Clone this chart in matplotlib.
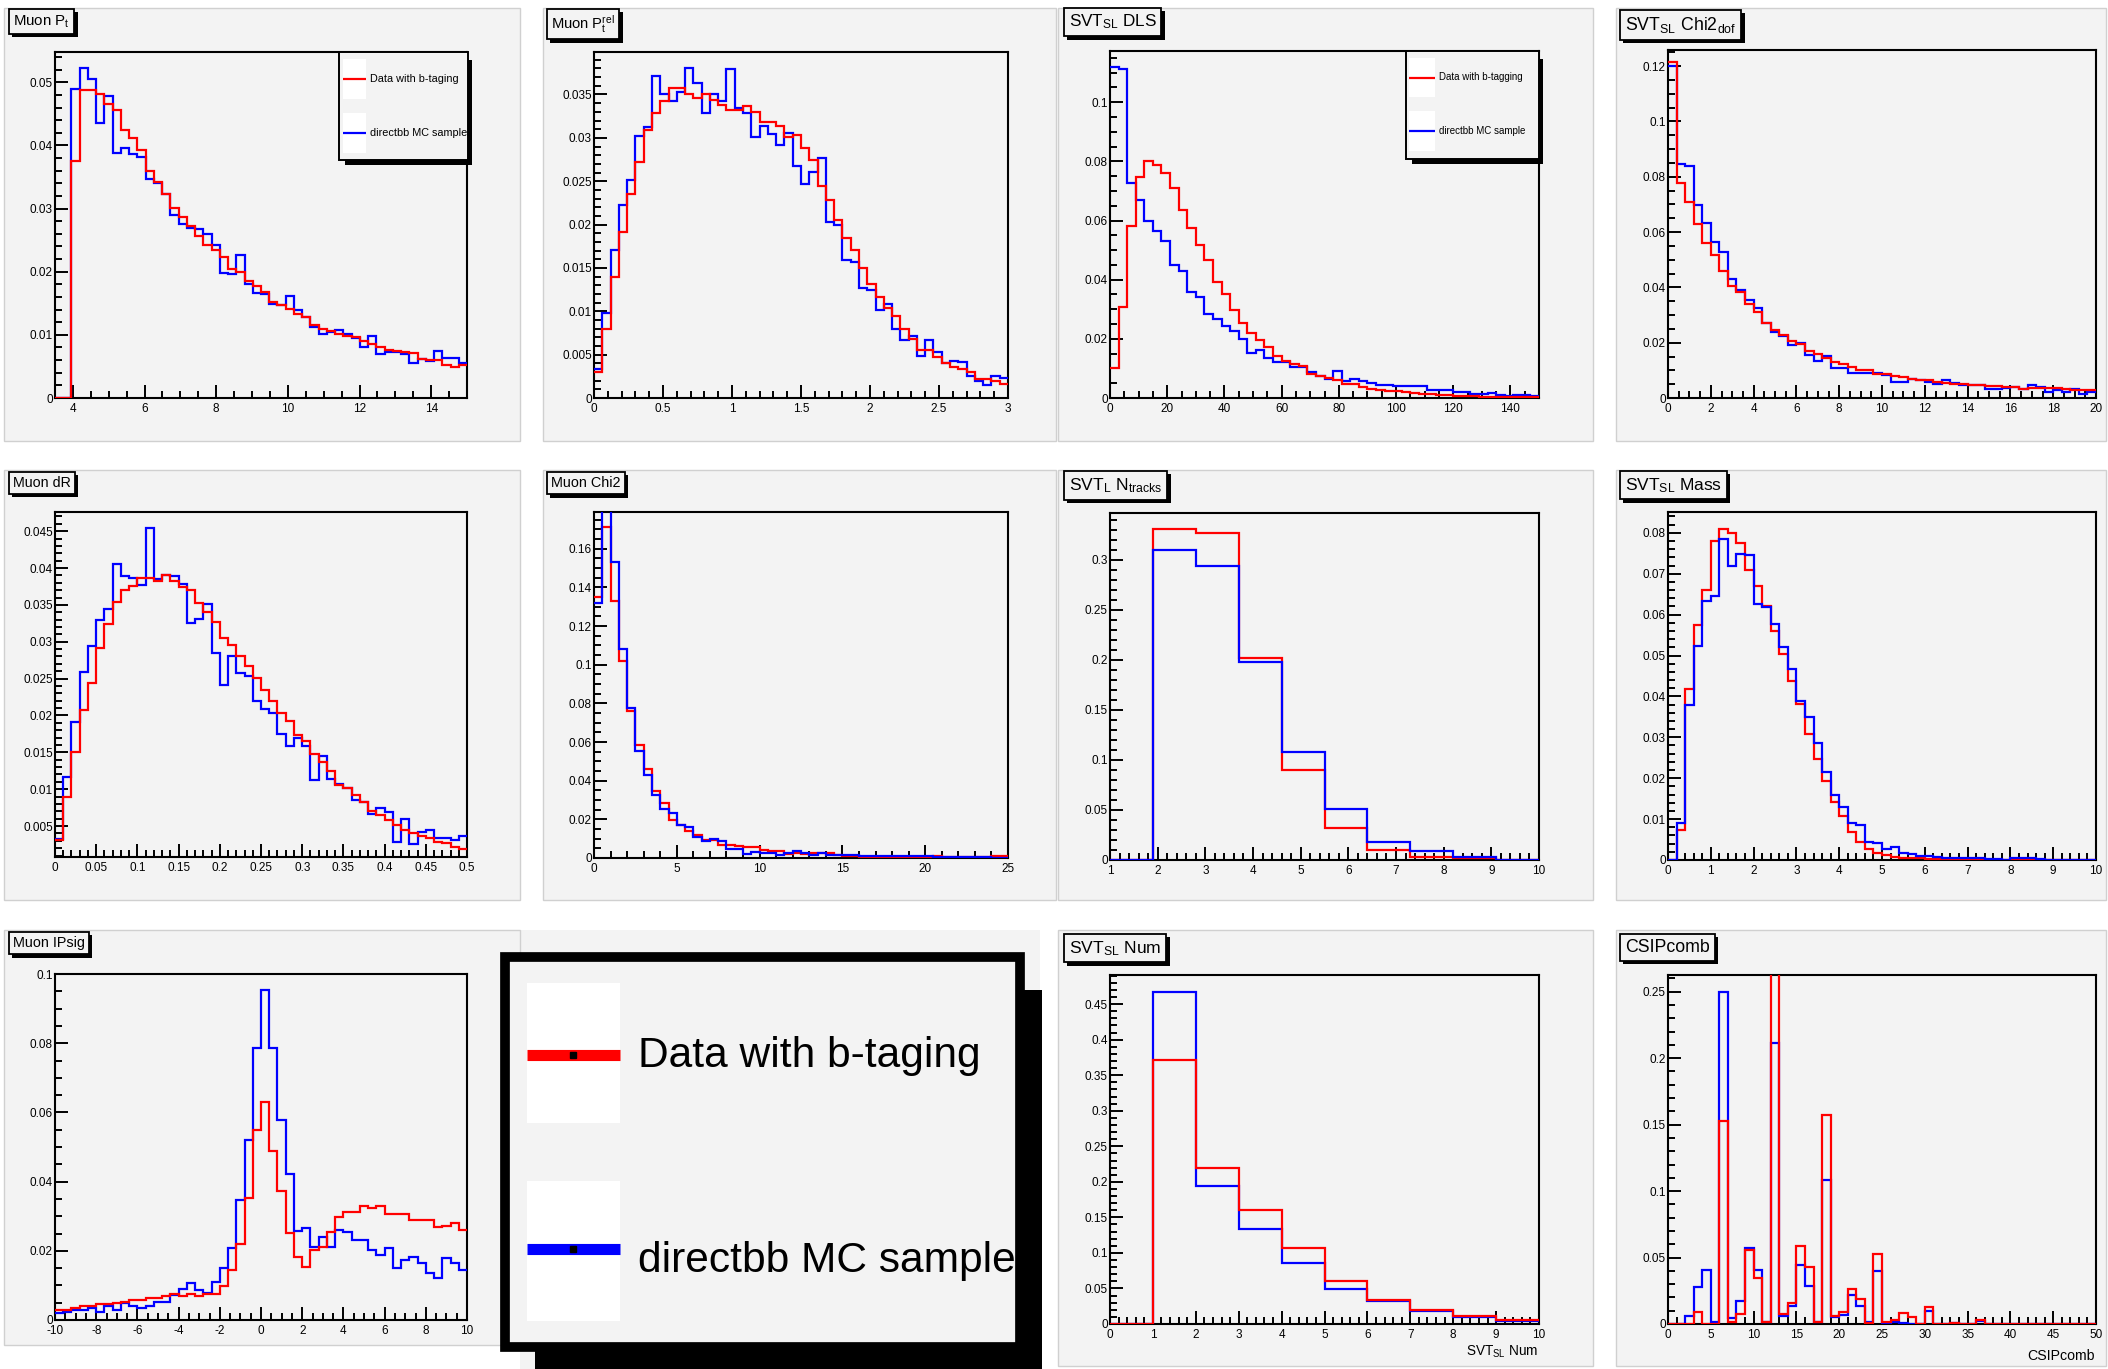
import numpy as np
import matplotlib
matplotlib.use("Agg")
import matplotlib.pyplot as plt
from matplotlib.patches import Rectangle
from matplotlib.lines import Line2D
from matplotlib.ticker import MultipleLocator, FuncFormatter
from matplotlib.transforms import Affine2D
import matplotlib.patheffects as pe

W, H = 2108, 1369
FAM = "Liberation Sans"

plt.rcParams["font.family"] = [FAM, "DejaVu Sans"]
plt.rcParams["axes.unicode_minus"] = False
plt.rcParams["mathtext.fontset"] = "custom"
plt.rcParams["mathtext.rm"] = FAM
plt.rcParams["mathtext.it"] = FAM
plt.rcParams["mathtext.default"] = "regular"

RED, BLUE, PAD = "#ff0000", "#0000ff", "#f3f3f3"

# ---- data (normalised bin contents) ----
pt_red = [0, 0, 0.0375, 0.0488, 0.0488, 0.0482, 0.0466, 0.0456, 0.0424, 0.0412,
          0.0392, 0.0360, 0.0342, 0.0323, 0.0301, 0.0287, 0.0272, 0.0256, 0.0243, 0.0234,
          0.0224, 0.0205, 0.0199, 0.0186, 0.0177, 0.0168, 0.0152, 0.0148, 0.0141, 0.0133,
          0.0129, 0.0115, 0.0110, 0.0106, 0.0102, 0.0098, 0.0097, 0.0090, 0.0086, 0.0081,
          0.0076, 0.0074, 0.0073, 0.0071, 0.0062, 0.0060, 0.0060, 0.0053, 0.0049, 0.0053]
pt_blue = [0, 0, 0.0489, 0.0522, 0.0506, 0.0436, 0.0478, 0.0388, 0.0396, 0.0387,
           0.0382, 0.0347, 0.0340, 0.0323, 0.0290, 0.0275, 0.0269, 0.0268, 0.0259, 0.0243,
           0.0198, 0.0196, 0.0227, 0.0180, 0.0166, 0.0165, 0.0149, 0.0148, 0.0161, 0.0139,
           0.0128, 0.0113, 0.0101, 0.0105, 0.0107, 0.0101, 0.0095, 0.0081, 0.0098, 0.0069,
           0.0073, 0.0073, 0.0070, 0.0056, 0.0062, 0.0059, 0.0075, 0.0063, 0.0063, 0.0056]

ptrel_red = [0.0030, 0.0080, 0.0140, 0.0192, 0.0235, 0.0272, 0.0309, 0.0329, 0.0342, 0.0357,
             0.0358, 0.0350, 0.0346, 0.0351, 0.0344, 0.0338, 0.0332, 0.0332, 0.0337, 0.0330,
             0.0318, 0.0318, 0.0314, 0.0301, 0.0303, 0.0288, 0.0274, 0.0245, 0.0228, 0.0205,
             0.0185, 0.0171, 0.0150, 0.0131, 0.0117, 0.0104, 0.0094, 0.0080, 0.0068, 0.0055,
             0.0055, 0.0047, 0.0040, 0.0036, 0.0034, 0.0030, 0.0022, 0.0022, 0.0020, 0.0016]
ptrel_blue = [0.0034, 0.0098, 0.0171, 0.0223, 0.0251, 0.0302, 0.0313, 0.0371, 0.0350, 0.0342,
              0.0353, 0.0381, 0.0363, 0.0329, 0.0350, 0.0342, 0.0379, 0.0334, 0.0329, 0.0301,
              0.0314, 0.0305, 0.0292, 0.0306, 0.0268, 0.0247, 0.0261, 0.0277, 0.0203, 0.0200,
              0.0159, 0.0157, 0.0127, 0.0124, 0.0101, 0.0108, 0.0080, 0.0067, 0.0071, 0.0048,
              0.0067, 0.0053, 0.0040, 0.0043, 0.0042, 0.0025, 0.0020, 0.0015, 0.0025, 0.0023]

dls_red = [0.0101, 0.0309, 0.0583, 0.0746, 0.0802, 0.0789, 0.0759, 0.0710, 0.0636, 0.0574,
           0.0517, 0.0465, 0.0391, 0.0352, 0.0296, 0.0253, 0.0219, 0.0195, 0.0172, 0.0141,
           0.0125, 0.0116, 0.0107, 0.0082, 0.0076, 0.0069, 0.0060, 0.0048, 0.0048, 0.0037,
           0.0031, 0.0026, 0.0024, 0.0024, 0.0020, 0.0018, 0.0015, 0.0012, 0.0011, 0.0009,
           0.0008, 0.0007, 0.0006, 0.0005, 0.0005, 0.0003, 0.0002, 0.0002, 0.0002, 0.0002]
dls_blue = [0.1120, 0.1111, 0.0726, 0.0669, 0.0600, 0.0566, 0.0532, 0.0448, 0.0429, 0.0358,
            0.0341, 0.0285, 0.0268, 0.0242, 0.0228, 0.0200, 0.0152, 0.0161, 0.0136, 0.0121,
            0.0121, 0.0105, 0.0105, 0.0088, 0.0076, 0.0065, 0.0091, 0.0056, 0.0063, 0.0056,
            0.0051, 0.0043, 0.0043, 0.0039, 0.0039, 0.0039, 0.0039, 0.0028, 0.0028, 0.0028,
            0.0020, 0.0020, 0.0015, 0.0015, 0.0018, 0.0009, 0.0006, 0.0011, 0.0011, 0.0007]

chi2dof_red = [0.1216, 0.0778, 0.0709, 0.0628, 0.0561, 0.0516, 0.0458, 0.0405, 0.0384, 0.0339,
               0.0311, 0.0271, 0.0247, 0.0227, 0.0206, 0.0194, 0.0170, 0.0160, 0.0146, 0.0130,
               0.0122, 0.0112, 0.0103, 0.0103, 0.0088, 0.0088, 0.0078, 0.0076, 0.0070, 0.0066,
               0.0064, 0.0058, 0.0055, 0.0052, 0.0052, 0.0046, 0.0046, 0.0042, 0.0042, 0.0040,
               0.0040, 0.0034, 0.0036, 0.0037, 0.0036, 0.0036, 0.0034, 0.0028, 0.0030, 0.0030]
chi2dof_blue = [0.1200, 0.0846, 0.0838, 0.0697, 0.0631, 0.0565, 0.0526, 0.0429, 0.0392, 0.0356,
                0.0327, 0.0271, 0.0239, 0.0224, 0.0191, 0.0199, 0.0154, 0.0134, 0.0151, 0.0110,
                0.0110, 0.0090, 0.0090, 0.0090, 0.0090, 0.0082, 0.0058, 0.0058, 0.0068, 0.0066,
                0.0058, 0.0052, 0.0064, 0.0054, 0.0046, 0.0046, 0.0046, 0.0031, 0.0031, 0.0037,
                0.0040, 0.0031, 0.0046, 0.0040, 0.0022, 0.0030, 0.0022, 0.0034, 0.0016, 0.0022]

dr_red = [0.0031, 0.0090, 0.0150, 0.0207, 0.0244, 0.0291, 0.0324, 0.0354, 0.0370, 0.0375,
          0.0387, 0.0386, 0.0383, 0.0390, 0.0383, 0.0374, 0.0370, 0.0352, 0.0340, 0.0327,
          0.0305, 0.0296, 0.0280, 0.0267, 0.0251, 0.0234, 0.0220, 0.0204, 0.0193, 0.0174,
          0.0166, 0.0148, 0.0137, 0.0125, 0.0106, 0.0101, 0.0092, 0.0082, 0.0071, 0.0065,
          0.0058, 0.0052, 0.0044, 0.0041, 0.0036, 0.0034, 0.0028, 0.0027, 0.0022, 0.0019]
dr_blue = [0.0033, 0.0117, 0.0191, 0.0259, 0.0294, 0.0329, 0.0345, 0.0405, 0.0389, 0.0386,
           0.0377, 0.0454, 0.0385, 0.0391, 0.0389, 0.0378, 0.0326, 0.0331, 0.0351, 0.0285,
           0.0242, 0.0280, 0.0258, 0.0253, 0.0220, 0.0209, 0.0204, 0.0175, 0.0158, 0.0169,
           0.0158, 0.0112, 0.0145, 0.0114, 0.0107, 0.0101, 0.0085, 0.0083, 0.0066, 0.0074,
           0.0069, 0.0028, 0.0059, 0.0026, 0.0042, 0.0045, 0.0034, 0.0034, 0.0031, 0.0036]

mchi2_red = [0.135, 0.171, 0.133, 0.102, 0.076, 0.0585, 0.0462, 0.0346, 0.0285, 0.0199,
             0.0173, 0.0138, 0.0121, 0.0095, 0.0095, 0.0069, 0.0069, 0.0061, 0.0055, 0.0055,
             0.0043, 0.0035, 0.0035, 0.0021, 0.0026, 0.0021, 0.0026, 0.0026, 0.0026, 0.0014,
             0.0009, 0.0008, 0.0007, 0.0007, 0.0006, 0.0006, 0.0005, 0.0005, 0.0005, 0.0004,
             0.0004, 0.0008, 0.0004, 0.0007, 0.0007, 0.0005, 0.0004, 0.0003, 0.0008, 0.0008]
mchi2_blue = [0.132, 0.200, 0.153, 0.108, 0.0775, 0.0554, 0.0429, 0.0325, 0.0256, 0.0234,
              0.0173, 0.0159, 0.0107, 0.0087, 0.0099, 0.0087, 0.0048, 0.0048, 0.0021, 0.0031,
              0.0026, 0.0026, 0.0017, 0.0026, 0.0035, 0.0026, 0.0017, 0.0026, 0.0017, 0.0017,
              0.0017, 0.0017, 0.0009, 0.0009, 0.0009, 0.0009, 0.0009, 0.0009, 0.0009, 0.0009,
              0.0009, 0.0003, 0.0003, 0.0005, 0.0005, 0.0005, 0.0005, 0.0005, 0.0002, 0.0002]

ntrk_red = [0, 0.331, 0.327, 0.202, 0.0898, 0.0323, 0.0100, 0.0027, 0.0017, 0.0002]
ntrk_blue = [0, 0.310, 0.294, 0.198, 0.1075, 0.0509, 0.0176, 0.0093, 0.0033, 0.0]

mass_red = [0, 0.0073, 0.0419, 0.0574, 0.0660, 0.0779, 0.0810, 0.0800, 0.0775, 0.0708,
            0.0669, 0.0620, 0.0559, 0.0503, 0.0438, 0.0381, 0.0309, 0.0248, 0.0194, 0.0143,
            0.0107, 0.0069, 0.0045, 0.0028, 0.0018, 0.0012, 0.0008, 0.0006, 0.0005, 0.0004,
            0.0003, 0.0002, 0.0002, 0.0001, 0.0001, 0.0001, 0.0001, 0, 0, 0,
            0, 0, 0, 0, 0, 0, 0, 0, 0, 0]
mass_blue = [0, 0.0090, 0.0379, 0.0524, 0.0634, 0.0645, 0.0786, 0.0719, 0.0749, 0.0745,
             0.0625, 0.0619, 0.0576, 0.0520, 0.0466, 0.0389, 0.0350, 0.0285, 0.0216, 0.0159,
             0.0130, 0.0090, 0.0086, 0.0045, 0.0041, 0.0026, 0.0031, 0.0018, 0.0015, 0.0011,
             0.0010, 0.0008, 0.0006, 0.0005, 0.0004, 0.0004, 0.0004, 0.0003, 0.0003, 0.0001,
             0.0005, 0.0005, 0.0005, 0.0002, 0, 0, 0, 0, 0, 0]

ip_red = [0.0029, 0.0029, 0.0036, 0.0040, 0.0040, 0.0045, 0.0045, 0.0048, 0.0053, 0.0058,
          0.0058, 0.0065, 0.0065, 0.0069, 0.0075, 0.0069, 0.0075, 0.0069, 0.0075, 0.0075,
          0.0098, 0.0145, 0.0220, 0.0352, 0.0549, 0.0631, 0.0489, 0.0374, 0.0252, 0.0183,
          0.0154, 0.0202, 0.0212, 0.0255, 0.0299, 0.0311, 0.0311, 0.0329, 0.0323, 0.0329,
          0.0306, 0.0306, 0.0306, 0.0289, 0.0289, 0.0289, 0.0270, 0.0273, 0.0279, 0.0260]
ip_blue = [0.0021, 0.0024, 0.0029, 0.0029, 0.0036, 0.0022, 0.0040, 0.0029, 0.0048, 0.0040,
           0.0034, 0.0040, 0.0053, 0.0053, 0.0072, 0.0089, 0.0108, 0.0087, 0.0079, 0.0111,
           0.0149, 0.0207, 0.0347, 0.0520, 0.0785, 0.0954, 0.0785, 0.0578, 0.0422, 0.0258,
           0.0265, 0.0212, 0.0241, 0.0212, 0.0260, 0.0253, 0.0231, 0.0231, 0.0202, 0.0188,
           0.0207, 0.0149, 0.0173, 0.0183, 0.0166, 0.0137, 0.0120, 0.0178, 0.0166, 0.0145]

num_red = [0, 0.372, 0.2195, 0.161, 0.1067, 0.0611, 0.0343, 0.0197, 0.0118, 0.0056]
num_blue = [0, 0.4676, 0.1936, 0.133, 0.086, 0.0493, 0.032, 0.0179, 0.0094, 0.0047]

csip_red = [0, 0, 0, 0.0088, 0, 0, 0.153, 0.0018, 0.0075, 0.0558,
            0.0347, 0.0013, 0.30, 0.0075, 0.0156, 0.059, 0.0432, 0.0013, 0.1575, 0.0063,
            0.0093, 0.0264, 0.0188, 0.0005, 0.0523, 0.0013, 0.0030, 0.0080, 0.0050, 0,
            0.0126, 0, 0, 0.0008, 0, 0, 0.0030, 0, 0, 0,
            0, 0, 0, 0, 0, 0, 0, 0, 0, 0]
csip_blue = [0, 0, 0.0063, 0.0276, 0.0407, 0.0018, 0.250, 0.0045, 0.0171, 0.057,
             0.0407, 0.0013, 0.2116, 0.0063, 0.0138, 0.0447, 0.0289, 0.0013, 0.108, 0.005,
             0.0068, 0.0219, 0.0138, 0.0018, 0.0402, 0.0005, 0.0018, 0.0005, 0, 0,
             0.0095, 0, 0, 0.0008, 0, 0, 0.0020, 0, 0, 0,
             0, 0, 0, 0, 0, 0, 0, 0, 0, 0]

legend_labels = ["Data with b-taging", "directbb MC sample"]

fig = plt.figure(figsize=(W / 100, H / 100), dpi=100)
fig.patch.set_facecolor("white")
PX = Affine2D().scale(1.0 / W, -1.0 / H).translate(0, 1) + fig.transFigure


def rect(l, t, r, b, z=6, **kw):
    fig.add_artist(Rectangle((l, t), r - l, b - t, transform=PX, zorder=z, **kw))


def hline(x0, x1, y, color, lw, z=7):
    fig.add_artist(Line2D([x0, x1], [y, y], transform=PX, color=color, lw=lw,
                          solid_capstyle="butt", zorder=z))


# pads
for (l, r) in [(4, 520), (543, 1056), (1058, 1593), (1616, 2106)]:
    rect(l, 8, r, 441, z=-5, fc=PAD, ec="#d0d0d0", lw=1)
    rect(l, 470, r, 900, z=-5, fc=PAD, ec="#d0d0d0", lw=1)
rect(4, 930, 520, 1345, z=-5, fc=PAD, ec="#d0d0d0", lw=1)
rect(520, 930, 1040, 1369, z=-6, fc=PAD, ec="none")
rect(1058, 930, 1593, 1366, z=-5, fc=PAD, ec="#d0d0d0", lw=1)
rect(1616, 930, 2106, 1366, z=-5, fc=PAD, ec="#d0d0d0", lw=1)

fmt = FuncFormatter(lambda v, p: "%g" % round(v, 6))


def hist_panel(box, lo, hi, red, blue, ylim, xt, yt, blue_top=False):
    l, t, r, b = box
    ax = fig.add_axes([l / W, 1 - b / H, (r - l) / W, (b - t) / H])
    ax.set_facecolor(PAD)
    edges = np.linspace(lo, hi, len(red) + 1)
    zr, zb = (3.1, 3.2) if blue_top else (3.2, 3.1)
    ax.stairs(blue, edges, color=BLUE, lw=1.6, zorder=zb, baseline=None)
    ax.stairs(red, edges, color=RED, lw=1.6, zorder=zr, baseline=None)
    ax.set_xlim(lo, hi)
    ax.set_ylim(*ylim)
    ax.xaxis.set_major_locator(MultipleLocator(xt[0]))
    ax.xaxis.set_minor_locator(MultipleLocator(xt[1]))
    ax.yaxis.set_major_locator(MultipleLocator(yt[0]))
    ax.yaxis.set_minor_locator(MultipleLocator(yt[1]))
    ax.xaxis.set_major_formatter(fmt)
    ax.yaxis.set_major_formatter(fmt)
    for s in ax.spines.values():
        s.set_linewidth(1.5)
    ax.tick_params(which="both", direction="in", top=False, right=False,
                   width=1.4, labelsize=8.5)
    ax.tick_params(which="major", length=9.5)
    ax.tick_params(which="minor", length=5)
    ax.tick_params(axis="y", pad=1.5)
    ax.tick_params(axis="x", pad=3.5)
    return ax


hist_panel((55, 52, 467, 398), 3.5, 15, pt_red, pt_blue, (0, 0.0548), (2, 0.5), (0.01, 0.002))
hist_panel((594, 52, 1008, 398), 0, 3, ptrel_red, ptrel_blue, (0, 0.0399), (0.5, 0.1), (0.005, 0.001))
hist_panel((1110, 51, 1539, 398), 0, 150, dls_red, dls_blue, (0, 0.1173), (20, 5), (0.02, 0.005))
hist_panel((1668, 50, 2096, 398), 0, 20, chi2dof_red, chi2dof_blue, (0, 0.1258), (2, 0.5), (0.02, 0.005))
hist_panel((55, 512, 467, 857), 0, 0.5, dr_red, dr_blue, (0.0008, 0.0476), (0.05, 0.01), (0.005, 0.001))
hist_panel((594, 512, 1008, 858), 0, 25, mchi2_red, mchi2_blue, (0, 0.179), (5, 1), (0.02, 0.005), blue_top=True)
hist_panel((1110, 513, 1539, 860), 1, 10, ntrk_red, ntrk_blue, (0, 0.3466), (1, 0.2), (0.05, 0.01), blue_top=True)
hist_panel((1668, 512, 2096, 860), 0, 10, mass_red, mass_blue, (0, 0.0851), (1, 0.2), (0.01, 0.002), blue_top=True)
hist_panel((55, 974, 467, 1320), -10, 10, ip_red, ip_blue, (0, 0.1 + 1e-9), (2, 0.5), (0.02, 0.005))
hist_panel((1110, 975, 1539, 1324), 0, 10, num_red, num_blue, (0, 0.491), (1, 0.2), (0.05, 0.01))
hist_panel((1668, 975, 2096, 1324), 0, 50, csip_red, csip_blue, (0, 0.2626), (5, 1), (0.05, 0.01))

# axis titles
fig.text(1538, 1356, r"SVT$_\mathregular{SL}$ Num", transform=PX, ha="right", va="baseline",
         fontsize=9.8)
fig.text(2095, 1360, "CSIPcomb", transform=PX, ha="right", va="baseline", fontsize=10.2)


# panel titles
def title_box(l, t, s, size):
    p = 0.28 * size * 100 / 72
    tx = fig.text(l + p, t + p, s, transform=PX, ha="left", va="top", fontsize=size, zorder=8,
                  bbox=dict(boxstyle="square,pad=0.28", fc=PAD, ec="black", lw=1.3))
    tx.get_bbox_patch().set_path_effects(
        [pe.SimplePatchShadow(offset=(2.5, -2.5), shadow_rgbFace="black", alpha=1.0), pe.Normal()])


title_box(9, 9, r"Muon P$_\mathregular{t}$", 10.8)
title_box(547, 9, r"Muon P$_\mathregular{t}^\mathregular{rel}$", 10.6)
title_box(1064, 8, r"SVT$_\mathregular{SL}$ DLS", 12.3)
title_box(1620, 10, r"SVT$_\mathregular{SL}$ Chi2$_\mathregular{dof}$", 12.8)
title_box(9, 472, "Muon dR", 10.3)
title_box(547, 472, "Muon Chi2", 10.4)
title_box(1064, 471, r"SVT$_\mathregular{L}$ N$_\mathregular{tracks}$", 12.6)
title_box(1620, 471, r"SVT$_\mathregular{SL}$ Mass", 12.5)
title_box(9, 932, "Muon IPsig", 10.4)
title_box(1064, 934, r"SVT$_\mathregular{SL}$ Num", 12.6)
title_box(1620, 934, "CSIPcomb", 12.8)


# small legends inside panels 1 and 3
def small_legend(l, t, r, b, sq_l, sq_r, sq_rows, labels, size):
    rect(l + 6, t + 8, r + 4, b + 5, z=6, fc="black", ec="none")
    rect(l, t, r, b, z=6.5, fc=PAD, ec="black", lw=1.4)
    for (st, sb), lab, col in zip(sq_rows, labels, [RED, BLUE]):
        rect(sq_l, st, sq_r, sb, z=7, fc="white", ec="none")
        yc = (st + sb) / 2
        hline(sq_l, sq_r, yc, col, 1.6, z=7.5)
        fig.text(sq_r + 4, yc, lab, transform=PX, ha="left", va="center",
                 fontsize=size, zorder=8)


small_legend(339, 52, 468, 160, 343, 366, [(59, 99), (113, 153)], legend_labels, 7.8)
small_legend(1406, 51, 1539, 159, 1409, 1435, [(58, 97), (111, 151)],
             ["Data with b-tagging", "directbb MC sample"], 7.0)

# large legend box
rect(535, 990, 1042, 1369, z=6, fc="black", ec="none")
rect(505, 957, 1020, 1347, z=6.5, fc=PAD, ec="black", lw=7)
for (st, sb), yl, yb, lab, col in zip([(983, 1123), (1181, 1321)], [1054.5, 1249],
                                      [1067, 1272], legend_labels, [RED, BLUE]):
    rect(527, st, 620, sb, z=7, fc="white", ec="none")
    hline(527, 620, yl, col, 8, z=7.5)
    fig.add_artist(Line2D([573], [yl], transform=PX, marker="s", ms=4, color="black",
                          ls="none", zorder=7.8))
    fig.text(638, yb, lab, transform=PX, ha="left", va="baseline", fontsize=30.6, zorder=8)

fig.savefig("out.png", dpi=100, facecolor="white")
